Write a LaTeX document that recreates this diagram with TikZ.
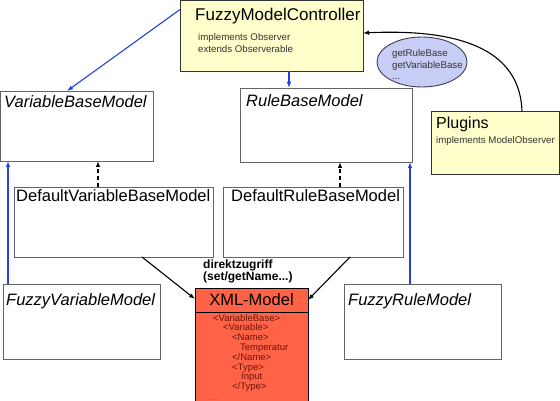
\documentclass[tikz,border=0pt]{standalone}
\usepackage{fontspec}
\setmainfont{Liberation Sans}
\usetikzlibrary{arrows.meta,calc,shapes.geometric}
\definecolor{boxyellow}{RGB}{255,255,204}
\definecolor{xmlred}{RGB}{255,99,71}
\definecolor{arrblue}{RGB}{35,65,225}
\definecolor{ellfill}{RGB}{200,205,245}
\definecolor{ellline}{RGB}{60,60,90}
\definecolor{boxgray}{RGB}{100,100,100}
\definecolor{xmltext}{RGB}{110,20,10}
\begin{document}
\begin{tikzpicture}[x=1pt,y=-1pt,
  umlbox/.style={draw=boxgray, line width=0.9pt, fill=white, rectangle, inner sep=0pt, outer sep=0pt, anchor=north west},
  yelbox/.style={umlbox, draw=black!80, fill=boxyellow},
  bigtxt/.style={inner sep=0pt, anchor=base west, font=\fontsize{16.5}{18}\selectfont},
  smalltxt/.style={inner sep=0pt, anchor=base west, font=\fontsize{9.7}{12}\selectfont, text=black!80},
  xmltxt/.style={inner sep=0pt, anchor=base west, font=\fontsize{9.5}{10}\selectfont, text=xmltext},
  bluearrow/.style={draw=arrblue, line width=1.1pt, -{Latex[length=6pt,width=4.5pt]}},
  dasharrow/.style={draw=black, line width=1.1pt, dash pattern=on 4pt off 3pt, -{Latex[length=6pt,width=4.5pt]}},
  blackarrow/.style={draw=black, line width=1.1pt, -{Latex[length=6pt,width=4.5pt]}},
]
\useasboundingbox (0,0) rectangle (560,401);

% boxes
\node[yelbox, minimum width=183pt, minimum height=71pt] (fmc) at (180,0.5) {};
\node[bigtxt, font=\fontsize{17}{19}\selectfont] (fmct) at (195,21) {FuzzyModelController};
\node[smalltxt] (fmc1) at (198,40.5) {implements Observer};
\node[smalltxt] (fmc2) at (198,52.5) {extends Observerable};

\node[umlbox, minimum width=153pt, minimum height=70pt] (vbm) at (0.5,91) {};
\node[bigtxt] (vbmt) at (4,108) {\itshape VariableBaseModel};

\node[umlbox, minimum width=172pt, minimum height=74pt] (rbm) at (240,88) {};
\node[bigtxt] (rbmt) at (246,107) {\itshape RuleBaseModel};

\node[yelbox, minimum width=128pt, minimum height=63pt] (plug) at (431,111) {};
\node[bigtxt, font=\fontsize{16}{18}\selectfont] (plugt) at (436,129) {Plugins};
\node[smalltxt] (plug1) at (436,143.5) {implements ModelObserver};

\node[umlbox, minimum width=199pt, minimum height=70pt] (dvbm) at (14,187) {};
\node[bigtxt] (dvbmt) at (16,202) {DefaultVariableBaseModel};

\node[umlbox, minimum width=180pt, minimum height=70pt] (drbm) at (223,187) {};
\node[bigtxt] (drbmt) at (231,202) {DefaultRuleBaseModel};

\node[umlbox, minimum width=157pt, minimum height=75pt] (fvm) at (3,284) {};
\node[bigtxt] (fvmt) at (6,305) {\itshape FuzzyVariableModel};

\node[umlbox, minimum width=157pt, minimum height=75pt] (frm) at (344,284) {};
\node[bigtxt] (frmt) at (348,305) {\itshape FuzzyRuleModel};

\node[umlbox, draw=black, fill=xmlred, minimum width=113pt, minimum height=116pt] (xml) at (195,288) {};
\draw[black, line width=0.9pt] ($(xml.north west)+(0,24)$) coordinate (xd1) -- ($(xml.north east)+(0,24)$) coordinate (xd2);
\node[bigtxt, anchor=base] (xmlt) at (251.5,305) {XML-Model};
\node[xmltxt] (x1) at (213,321) {<VariableBase>};
\node[xmltxt] (x2) at (223,330.5) {<Variable>};
\node[xmltxt] (x3) at (232,340.5) {<Name>};
\node[xmltxt] (x4) at (240,350) {Temperatur};
\node[xmltxt] (x5) at (232,360) {</Name>};
\node[xmltxt] (x6) at (232,370) {<Type>};
\node[xmltxt] (x7) at (241,379.5) {Input};
\node[xmltxt] (x8) at (232,389.5) {</Type>};
\node[xmltxt, text=xmltext!45!xmlred, font=\fontsize{6}{7}\selectfont] (x9) at (208,400) {......};

\node[inner sep=0pt, anchor=base west, font=\bfseries\fontsize{12}{11}\selectfont] (dz1) at (203,269) {direktzugriff};
\node[inner sep=0pt, anchor=base west, font=\bfseries\fontsize{12}{11}\selectfont] (dz2) at (203,280) {(set/getName...)};

% connectors
\draw[bluearrow] ($(fmc.north west)+(0,9)$) -- ($(vbm.north west)+(66.5,0)$);
\draw[bluearrow] ($(fmc.south west)+(109,0)$) -- ($(rbm.north west)+(49,0)$);
\draw[dasharrow] ($(dvbm.north west)+(84,0)$) -- ($(vbm.south west)+(97.5,0)$);
\draw[dasharrow] ($(drbm.north west)+(117,0)$) -- ($(rbm.south west)+(100,0)$);
\draw[bluearrow] ($(fvm.north west)+(5,0)$) -- ($(vbm.south west)+(7.5,0)$);
\draw[bluearrow] ($(frm.north west)+(66,0)$) -- ($(rbm.south west)+(170,0)$);
\draw[blackarrow] ($(dvbm.south west)+(128,0)$) -- ($(xml.north west)+(0,11)$);
\draw[blackarrow] ($(drbm.south west)+(127,0)$) -- ($(xml.north east)+(0,12)$);
\draw[blackarrow] ($(plug.north west)+(91,0)$) .. controls (520,55) and (470,28) .. ($(fmc.north east)+(0,32.5)$);

% ellipse
\node[ellipse, draw=ellline, line width=0.9pt, fill=ellfill, minimum width=90pt, minimum height=50pt, inner sep=0pt] (ell) at (422,62) {};
\node[smalltxt] (e1) at (392,56.5) {getRuleBase};
\node[smalltxt] (e2) at (392,68.5) {getVariableBase};
\node[smalltxt] (e3) at (392,80) {...};
\end{tikzpicture}
\end{document}
